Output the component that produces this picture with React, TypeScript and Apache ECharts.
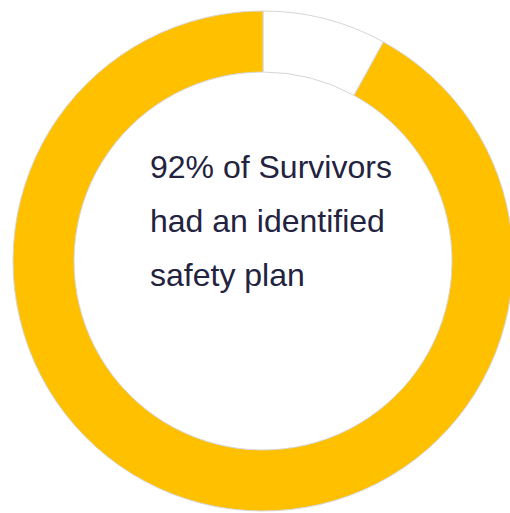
import React, { useEffect, useRef } from "react";
import * as echarts from "echarts";

const sliceNames = ["No plan", "Safety plan"];
const sliceValues = [8, 92];
const sliceColors = ["#ffffff", "#ffc000"];
const textLines = ["92% of Survivors", "had an identified", "safety plan"];

export default function App() {
  const ref = useRef<HTMLDivElement>(null);
  useEffect(() => {
    if (!ref.current) return;
    const chart = echarts.init(ref.current, null, { renderer: "svg" });
    chart.setOption({
      animation: false,
      backgroundColor: "#ffffff",
      series: [
        {
          type: "pie",
          center: [263, 261],
          radius: [189, 250],
          startAngle: 90,
          clockwise: true,
          label: { show: false },
          labelLine: { show: false },
          emphasis: { disabled: true },
          silent: true,
          data: sliceNames.map((n, i) => ({
            name: n,
            value: sliceValues[i],
            itemStyle: { color: sliceColors[i], borderColor: "#d6d6d6", borderWidth: 1 },
          })),
        },
      ],
      graphic: textLines.map((t, i) => ({
        type: "text",
        x: 150,
        y: 167 + i * 54,
        style: {
          text: t,
          fill: "#23233f",
          font: "32px 'Liberation Sans', Arial, sans-serif",
          textAlign: "left",
          textVerticalAlign: "middle",
        },
      })),
    });
    return () => chart.dispose();
  }, []);
  return (
    <div
      ref={ref}
      style={{ position: "fixed", left: 0, top: 0, width: 510, height: 513 }}
    />
  );
}
